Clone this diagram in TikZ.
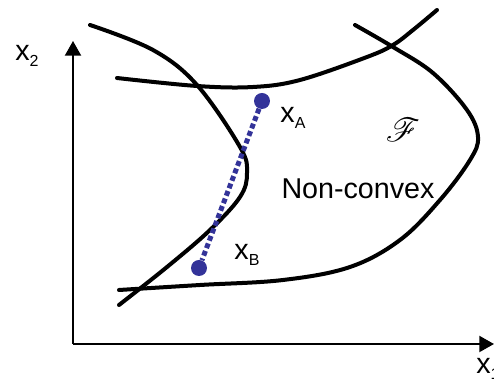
\documentclass[tikz,border=0pt]{standalone}
\usepackage{fontspec}
\setmainfont{Liberation Sans}
\usepackage{mathrsfs}
\usepackage{tikz}
\usetikzlibrary{arrows.meta,positioning}
\definecolor{ptblue}{HTML}{333399}
\newcommand{\subtxt}[1]{\raisebox{-0.35ex}{\fontsize{12}{12}\selectfont #1}}

\begin{document}
\begin{tikzpicture}[x=0.75pt,y=-0.75pt,>={Triangle[length=11pt,width=12pt]},
  curve/.style={line width=3pt,line cap=round},
  axis/.style={line width=1.5pt,->},
  pt/.style={circle,fill=ptblue,inner sep=0pt,minimum size=12pt},
  lbl/.style={font=\fontsize{21.5}{24}\selectfont,inner sep=0pt}]
  \useasboundingbox (0,0) rectangle (494,384);
  % axes
  \coordinate (o) at (73,344);
  \coordinate (xend) at (494,344);
  \coordinate (yend) at (73,41);
  \draw[axis] (o) -- (xend);
  \draw[axis] (o) -- (yend);
  \node[lbl,anchor=west] (xlab) at (476,369) {x\subtxt{1}};
  \node[lbl] (ylab) at (27,56) {x\subtxt{2}};
  % left boundary (S shape)
  \draw[curve] plot[smooth,tension=0.6] coordinates {(90,25) (153,50) (197,85) (240,147) (247,173) (240,197) (210,230) (167,267) (119,305)};
  % upper boundary
  \draw[curve] plot[smooth,tension=0.6] coordinates {(117,78) (197,86) (253,87) (300,80) (367,57) (393,45) (413,30) (437,10)};
  % right and lower boundary
  \draw[curve] plot[smooth,tension=0.6] coordinates {(355,25) (393,47) (433,73) (467,110) (478,137) (470,160) (440,200) (400,240) (350,267) (283,280) (200,285) (119,290)};
  % points and segment
  \node[pt] (xa) at (262,101) {};
  \node[pt] (xb) at (199,268) {};
  \draw[ptblue,line width=3.75pt,dash pattern=on 3.75pt off 2.25pt] (xa) -- (xb);
  \node[lbl] (la) at (293,118) {x\subtxt{A}};
  \node[lbl] (lb) at (247,255) {x\subtxt{B}};
  \node[lbl] (nc) at (358,189) {Non-convex};
  \node[font=\fontsize{34}{34}\selectfont] (fs) at (403,130) {$\mathscr{F}$};
\end{tikzpicture}
\end{document}
